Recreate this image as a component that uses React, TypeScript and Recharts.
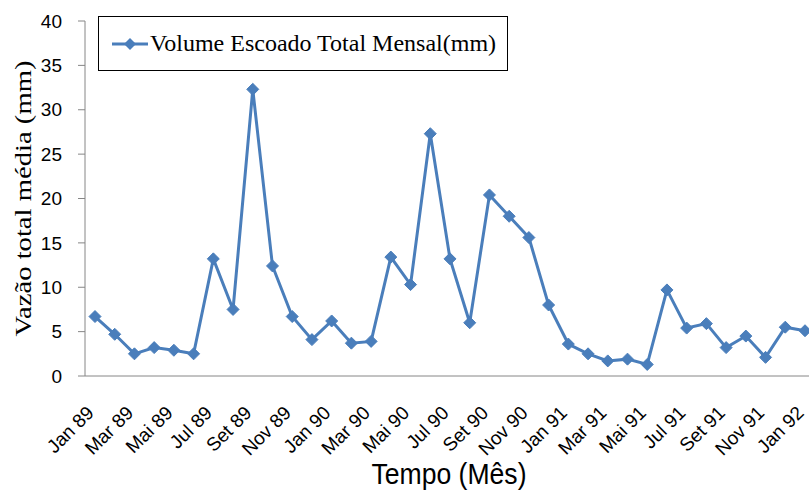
import { Line, LineChart, XAxis, YAxis } from 'recharts';

const months = ['Jan', 'Fev', 'Mar', 'Abr', 'Mai', 'Jun', 'Jul', 'Ago', 'Set', 'Out', 'Nov', 'Dez'];
const years = ['89', '90', '91', '92'];

// monthly runoff, Jan 89 .. Jan 92
const runoff = [
  6.7, 4.7, 2.5, 3.2, 2.9, 2.5, 13.2, 7.5, 32.3, 12.4, 6.7, 4.1,
  6.2, 3.7, 3.9, 13.4, 10.3, 27.3, 13.2, 6.0, 20.4, 18.0, 15.6, 8.0,
  3.6, 2.5, 1.7, 1.9, 1.3, 9.7, 5.4, 5.9, 3.2, 4.5, 2.1, 5.5,
  5.1,
];

const yTicks = [0, 5, 10, 15, 20, 25, 30, 35, 40];

const data = runoff.map((value, i) => ({
  month: `${months[i % 12]} ${years[Math.floor(i / 12)]}`,
  value,
}));

const BLUE = '#4A7EBB';
const AXIS = '#868686';
const SANS = "'Liberation Sans', Arial, sans-serif";
const SERIF = "'Liberation Serif', 'Times New Roman', serif";

const Diamond = (props: any) => {
  const { cx, cy } = props;
  if (cx == null || cy == null) return null;
  const r = 6;
  return (
    <path
      d={`M${cx},${cy - r}L${cx + r},${cy}L${cx},${cy + r}L${cx - r},${cy}Z`}
      fill={BLUE}
      stroke={BLUE}
      strokeWidth={1}
    />
  );
};

const MonthTick = ({ x, y, payload }: any) => (
  <g transform={`translate(${x},${y + 30})`}>
    <text x={0} y={0} textAnchor="end" transform="rotate(-45)" fontFamily={SANS} fontSize={19} fill="#000">
      {payload.value}
    </text>
  </g>
);

const YTitle = ({ viewBox }: any) => {
  const cy = viewBox.y + viewBox.height / 2;
  return (
    <text
      transform={`translate(23,${cy}) rotate(-90)`}
      textAnchor="middle"
      dominantBaseline="central"
      fontFamily={SERIF}
      fontSize={23}
      textLength={276}
      lengthAdjust="spacingAndGlyphs"
      fill="#000"
    >
      Vazão total média (mm)
    </text>
  );
};

const XTitle = ({ viewBox }: any) => {
  const cx = viewBox.x + viewBox.width / 2;
  return (
    <text
      x={cx - 1}
      y={484}
      textAnchor="middle"
      fontFamily={SANS}
      fontSize={29}
      textLength={155}
      lengthAdjust="spacingAndGlyphs"
      fill="#000"
    >
      Tempo (Mês)
    </text>
  );
};

const LegendBox = () => (
  <div
    style={{
      position: 'absolute',
      left: 98,
      top: 16,
      width: 410,
      height: 55,
      border: '1px solid #000',
      background: '#fff',
      boxSizing: 'border-box',
      display: 'flex',
      alignItems: 'center',
      paddingLeft: 12,
    }}
  >
    <svg width={38} height={16}>
      <line x1={1} y1={8} x2={37} y2={8} stroke={BLUE} strokeWidth={3} />
      <path d="M19,2L25,8L19,14L13,8Z" fill={BLUE} />
    </svg>
    <span style={{ fontFamily: SERIF, fontSize: 24, color: '#000', marginLeft: 1 }}>
      Volume Escoado Total Mensal(mm)
    </span>
  </div>
);

export default function App() {
  return (
    <div
      style={{
        position: 'absolute',
        left: 0,
        top: 0,
        width: 809,
        height: 490,
        overflow: 'hidden',
        background: '#fff',
      }}
    >
      <LineChart width={830} height={490} data={data} margin={{ top: 21, right: 15, left: 0, bottom: 0 }}>
        <XAxis
          dataKey="month"
          interval={1}
          padding={{ left: 10, right: 10 }}
          height={114}
          stroke={AXIS}
          tickLine={false}
          tick={<MonthTick />}
          label={<XTitle />}
        />
        <YAxis
          domain={[0, 40]}
          ticks={yTicks}
          width={85}
          stroke={AXIS}
          tickSize={7}
          tickMargin={16}
          tick={{ fill: '#000', fontSize: 19, fontFamily: SANS }}
          label={<YTitle />}
        />
        <Line
          type="linear"
          dataKey="value"
          stroke={BLUE}
          strokeWidth={3}
          dot={<Diamond />}
          activeDot={false}
          isAnimationActive={false}
        />
      </LineChart>
      <LegendBox />
    </div>
  );
}
